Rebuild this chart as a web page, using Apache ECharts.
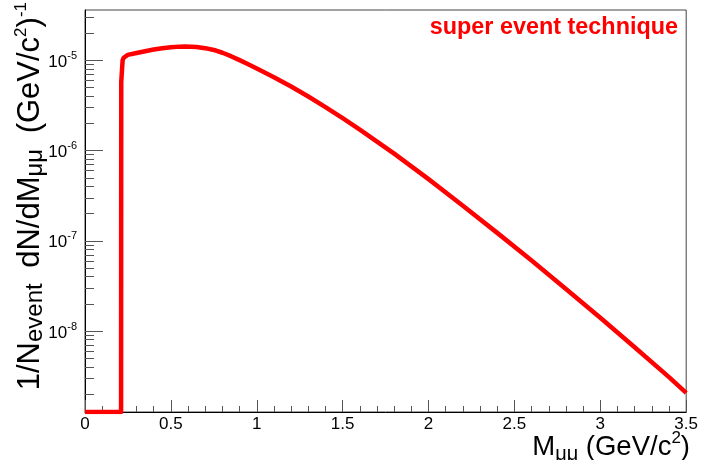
<!DOCTYPE html>
<html><head><meta charset="utf-8">
<script src="https://cdn.jsdelivr.net/npm/echarts@6/dist/echarts.min.js"></script>
<style>html,body{margin:0;padding:0;background:#fff}#c{width:701px;height:460px}</style>
</head><body><div id="c"></div>
<script>
// ---- data ----
const massGeV = [0, 0.21, 0.211, 0.218, 0.219, 0.225, 0.249, 0.3, 0.35, 0.4, 0.45, 0.5, 0.55, 0.58, 0.62, 0.65, 0.7, 0.75, 0.8, 0.85, 0.9, 0.95, 1.0, 1.1, 1.2, 1.3, 1.4, 1.5, 1.6, 1.7, 1.8, 2.0, 2.2, 2.4, 2.6, 2.8, 3.0, 3.2, 3.4, 3.5];
const yieldPerEvent = [0, 0, 5.8e-6, 5.8e-6, 1.0e-5, 1.07e-5, 1.151e-5, 1.209e-5, 1.266e-5, 1.320e-5, 1.366e-5, 1.401e-5, 1.422e-5, 1.426e-5, 1.419e-5, 1.406e-5, 1.368e-5, 1.306e-5, 1.216e-5, 1.114e-5, 1.007e-5, 9.06e-6, 8.13e-6, 6.51e-6, 5.13e-6, 3.98e-6, 3.04e-6, 2.29e-6, 1.71e-6, 1.26e-6, 9.25e-7, 4.83e-7, 2.45e-7, 1.225e-7, 6.03e-8, 2.92e-8, 1.40e-8, 6.61e-9, 3.08e-9, 2.06e-9];
const yTickExponents = [-8, -7, -6, -5];
const yMinorMantissas = [2, 3, 4, 5, 6, 7, 8, 9];
const xTickLabels = ['0', '0.5', '1', '1.5', '2', '2.5', '3', '3.5'];
const xRange = [0, 3.5];
const yRangeLog = [-8.898, -4.441];
const legendText = 'super event technique';

// ---- build ----
const FONT = '"Liberation Sans", Arial, Helvetica, sans-serif';
const yMinor = [];
for (let n = -9; n <= -5; n++) for (const k of yMinorMantissas) {
  const v = Math.log10(k) + n;
  if (v > yRangeLog[0] && v < yRangeLog[1]) yMinor.push(v);
}
const seriesData = massGeV.map((m, i) => [m, yieldPerEvent[i] > 0 ? Math.log10(yieldPerEvent[i]) : yRangeLog[0]]);

const chart = echarts.init(document.getElementById('c'), null, {renderer: 'canvas'});
const tickColor = '#555';
const titleRich = (main, sub, sup) => ({
  m: {fontFamily: FONT, fontSize: main, lineHeight: 34, verticalAlign: 'middle', fill: '#000'},
  sub: {fontFamily: FONT, fontSize: sub, lineHeight: 22, verticalAlign: 'bottom', fill: '#000'},
  sup: {fontFamily: FONT, fontSize: sup, lineHeight: 12, verticalAlign: 'top', fill: '#000'}
});
const option = {
  animation: false,
  backgroundColor: '#fff',
  grid: {left: 85, top: 10, right: 11, bottom: 48, show: true, borderColor: '#444', borderWidth: 1, backgroundColor: 'transparent'},
  xAxis: {
    type: 'value', min: xRange[0], max: xRange[1], interval: 0.5,
    axisLine: {show: true, lineStyle: {color: '#000', width: 1}},
    axisTick: {show: true, inside: true, length: 12, lineStyle: {color: tickColor}},
    minorTick: {show: true, splitNumber: 5, length: 6, lineStyle: {color: tickColor}},
    splitLine: {show: false}, minorSplitLine: {show: false},
    axisLabel: {
      margin: 4, color: '#000', fontFamily: FONT, fontSize: 17,
      formatter: (v) => xTickLabels[Math.round(v / 0.5)]
    }
  },
  yAxis: [{
    type: 'value', min: yRangeLog[0], max: yRangeLog[1], position: 'left',
    axisLine: {show: true, lineStyle: {color: '#000', width: 1}},
    axisTick: {show: true, inside: true, length: 18, customValues: yTickExponents, lineStyle: {color: tickColor}},
    splitLine: {show: false},
    axisLabel: {
      customValues: yTickExponents, margin: 8, padding: [4, 0, 0, 0],
      formatter: (v) => '{b|10}{s|-' + Math.abs(Math.round(v)) + '}',
      rich: {
        b: {fontFamily: FONT, fontSize: 17, color: '#000', lineHeight: 24, verticalAlign: 'middle'},
        s: {fontFamily: FONT, fontSize: 11, color: '#000', lineHeight: 10, verticalAlign: 'top'}
      }
    }
  }, {
    type: 'value', min: yRangeLog[0], max: yRangeLog[1], position: 'left', offset: 0,
    axisLine: {show: false},
    axisTick: {show: true, inside: true, length: 9, customValues: yMinor, lineStyle: {color: tickColor}},
    axisLabel: {show: false}, splitLine: {show: false}
  }],
  series: [{
    type: 'line', data: seriesData, showSymbol: false, clip: true, z: 5,
    lineStyle: {color: '#ff0000', width: 4.5, join: 'round', cap: 'butt'}
  }],
  graphic: [
    {
      type: 'text', x: 678, y: 28, z: 10,
      style: {text: legendText, fill: '#ff0000', font: 'bold 23.4px ' + FONT, align: 'right', verticalAlign: 'middle'}
    },
    {
      type: 'text', x: 690, y: 447, z: 10,
      style: {
        text: '{m|M}{sub|\u03bc\u03bc}{m| (GeV/c}{sup|2}{m|)}',
        align: 'right', verticalAlign: 'middle',
        rich: titleRich(27.5, 20, 17)
      }
    },
    {
      type: 'text', x: 30, y: 2, rotation: Math.PI / 2, z: 10,
      style: {
        text: '{m|1/N}{sub|event}{m|\u2002dN/dM}{sub|\u03bc\u03bc}{m|\u2002(GeV/c}{sup|2}{m|)}{sup|-1}',
        align: 'right', verticalAlign: 'middle',
        rich: titleRich(31, 24, 17)
      }
    }
  ]
};
chart.setOption(option);
</script>
</body></html>
